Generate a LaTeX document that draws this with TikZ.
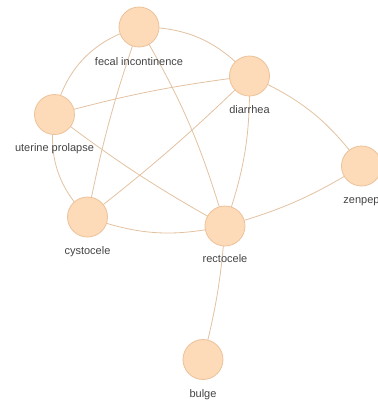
\documentclass[tikz,border=0pt]{standalone}
\usepackage{fontspec}
\setmainfont{Liberation Sans}
\definecolor{nodefill}{HTML}{FDDBB8}
\definecolor{nodeline}{HTML}{EDC29A}
\definecolor{edgecol}{HTML}{E3C2A2}
\definecolor{txt}{HTML}{444444}
\tikzset{
  vert/.style={circle, fill=nodefill, draw=nodeline, line width=0.6pt, minimum size=30pt, inner sep=0pt},
  lbl/.style={font=\fontsize{8.25pt}{9pt}\selectfont, text=txt, anchor=base, inner sep=0pt},
  link/.style={draw=edgecol, line width=0.6pt}
}
\begin{document}
\begin{tikzpicture}[x=0.75pt, y=-0.75pt]
\clip (0,0) rectangle (378,405);
\fill[white] (0,0) rectangle (378,405);
% edges first
\coordinate (cfi) at (139,27);
\coordinate (cdi) at (249.5,76);
\coordinate (cup) at (54.5,114.5);
\coordinate (cze) at (361.5,166);
\coordinate (ccy) at (87.5,217);
\coordinate (cre) at (225,226);
\coordinate (cbu) at (203,359.5);
\draw[link] (cfi) to[bend left=24] (cdi);
\draw[link] (cup) to[bend left=30] (cfi);
\draw[link] (cfi) to[bend right=4] (ccy);
\draw[link] (cfi) to[bend left=7] (cre);
\draw[link] (cdi) to[bend right=4] (cup);
\draw[link] (cdi) to[bend left=3] (ccy);
\draw[link] (cdi) to[bend left=10] (cre);
\draw[link] (cdi) to[bend left=15] (cze);
\draw[link] (cze) to[bend left=8] (cre);
\draw[link] (cre) to[bend left=16] (ccy);
\draw[link] (ccy) to[bend left=27] (cup);
\draw[link] (cup) to[bend right=4] (cre);
\draw[link] (cre) to[bend left=5] (cbu);
% nodes
\node[vert] (fi) at (cfi) {};
\node[vert] (di) at (cdi) {};
\node[vert] (up) at (cup) {};
\node[vert] (ze) at (cze) {};
\node[vert] (cy) at (ccy) {};
\node[vert] (re) at (cre) {};
\node[vert] (bu) at (cbu) {};
% labels
\node[lbl] (fil) at (139,65) {fecal incontinence};
\node[lbl] (dil) at (249.5,113) {diarrhea};
\node[lbl] (upl) at (54.5,151) {uterine prolapse};
\node[lbl] (zel) at (361.5,203) {zenpep};
\node[lbl] (cyl) at (87.5,254) {cystocele};
\node[lbl] (rel) at (225,262) {rectocele};
\node[lbl] (bul) at (203,397) {bulge};
\end{tikzpicture}
\end{document}
